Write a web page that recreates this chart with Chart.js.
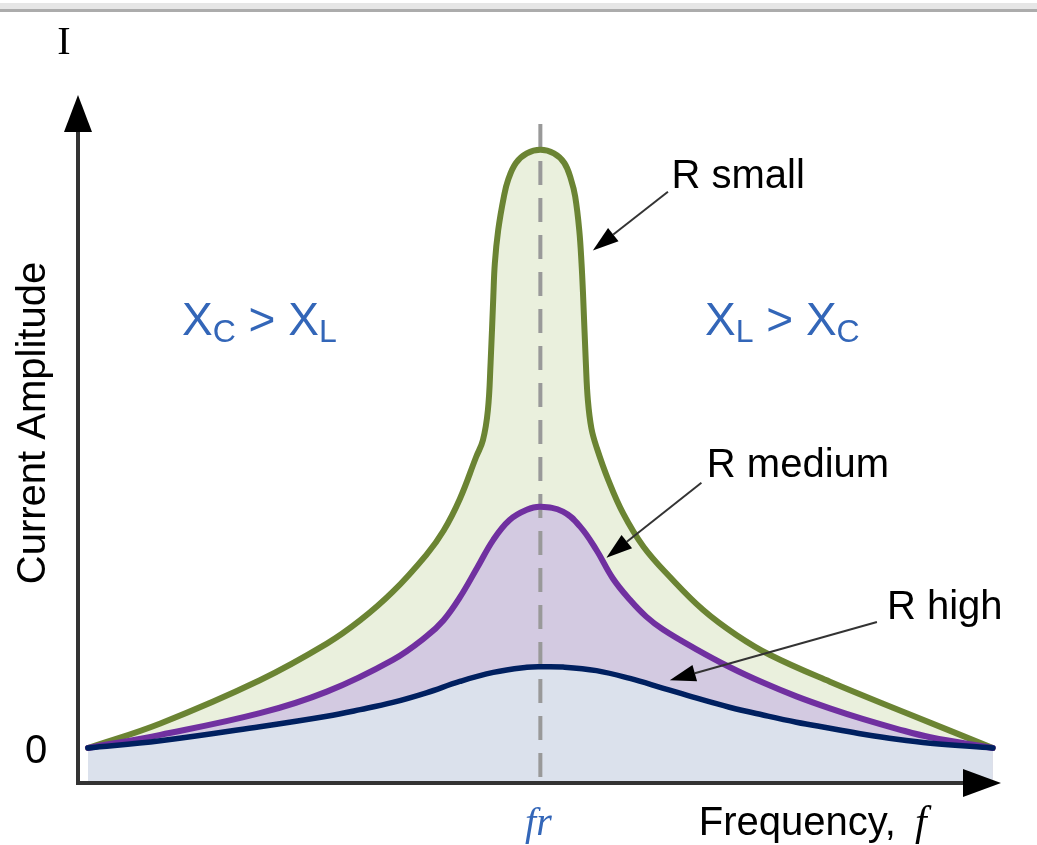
<!DOCTYPE html>
<html>
<head>
<meta charset="utf-8">
<script src="https://cdn.jsdelivr.net/npm/chart.js@4.4.0/dist/chart.umd.min.js"></script>
<style>
  html, body { margin: 0; padding: 0; background: #fff; }
  #wrap { position: relative; width: 1037px; height: 845px; overflow: hidden; }
  #topbar { position: absolute; left: 0; top: 3px; width: 1037px; height: 6px; background: #e6e6e6; border-bottom: 3px solid #acacac; }
  canvas { position: absolute; left: 0; top: 0; }
</style>
</head>
<body>
<div id="wrap">
  <div id="topbar"></div>
  <canvas id="resonanceChart" width="1037" height="845"></canvas>
</div>
<script>
// 주파수 (0 ~ 100, 공진 주파수 fr = 50)
const smallFreq  = [0, 8.0, 19.0, 26.4, 30.1, 33.7, 37.4, 39.3, 41.1, 42.9, 43.65, 44.2, 44.5, 44.8, 44.97, 45.34, 45.97, 46.44, 47.3, 48.5, 50,
                    51.5, 52.65, 53.4, 53.85, 54.3, 54.55, 54.73, 55.03, 55.25, 55.64, 56.24, 57.5, 59.15, 61.4, 64.3, 68.0, 71.7, 75.4, 82.0, 90.5, 100];
const smallAmp   = [0.5, 4.6, 11.8, 17.9, 21.8, 26.55, 32.7, 36.7, 42.0, 49.0, 51.8, 56.8, 64.7, 75.7, 81.3, 86.8, 92.4, 95.2, 98.0, 99.6, 100.2,
                    99.6, 98.0, 95.2, 92.4, 86.8, 81.3, 75.7, 64.6, 58.5, 53.8, 50.5, 45.2, 39.6, 34.05, 29.05, 23.5, 19.3, 16.0, 11.55, 6.3, 0.5];

const mediumFreq = [0, 8.0, 19.0, 26.4, 33.7, 37.4, 39.3, 41.1, 43.0, 44.8, 46.6, 48.5, 50,
                    52.5, 54.4, 56.2, 58.0, 59.9, 61.7, 63.6, 67.3, 70.9, 74.6, 78.3, 82.0, 85.7, 89.4, 93.1, 100];
const mediumAmp  = [0.5, 2.7, 6.3, 9.9, 15.2, 19.1, 21.8, 25.6, 30.5, 35.2, 38.5, 40.2, 40.7,
                    39.9, 37.4, 33.5, 28.8, 25.2, 22.4, 20.2, 16.9, 14.0, 11.4, 9.1, 7.1, 5.3, 3.7, 2.3, 0.5];

const highFreq   = [0, 8.0, 19.0, 26.4, 30.1, 33.7, 37.4, 41.1, 44.8, 48.5, 50, 52.5, 56.2, 59.9, 63.6,
                    67.3, 70.9, 74.6, 78.3, 82.0, 85.7, 89.4, 93.1, 100];
const highAmp    = [0.5, 1.7, 4.05, 5.8, 6.9, 8.1, 9.7, 11.6, 13.1, 13.95, 14.05, 14.0, 13.4, 12.1, 10.45,
                    8.8, 7.3, 6.0, 4.8, 3.8, 2.8, 1.95, 1.3, 0.5];

const seriesNames = ['R high', 'R medium', 'R small'];

// 축 눈금 라벨
const resonanceFreq = 50;
const xTickLabel = 'fr';
const yTickValue = 0;
const yTickLabel = '0';

// 주석 (라벨 위치, 화살표 시작/끝) - 데이터 단위
const notes = [
  { text: 'R small',  x: 64.5, y: 93.8, from: [64.1, 93.2], to: [55.8, 83.4] },
  { text: 'R medium', x: 68.4, y: 45.7, from: [67.8, 44.7], to: [57.3, 32.2] },
  { text: 'R high',   x: 88.3, y: 22.0, from: [87.2, 21.5], to: [64.3, 11.8] }
];

const SANS = "'Liberation Sans', Arial, sans-serif";
const SERIF = "'Liberation Serif', 'Times New Roman', serif";
const BLUE_TEXT = '#3366b8';

function toPoints(xs, ys) {
  return xs.map((f, i) => ({ x: f, y: ys[i] }));
}

// 아래첨자 텍스트 그리기
function drawRuns(ctx, x, y, runs) {
  let cx = x;
  runs.forEach(r => {
    ctx.font = r.size + 'px ' + SANS;
    ctx.fillText(r.text, cx, y + (r.dy || 0));
    cx += ctx.measureText(r.text).width;
  });
}

function drawArrow(ctx, x1, y1, x2, y2, len, half) {
  const ang = Math.atan2(y2 - y1, x2 - x1);
  const bx = x2 - Math.cos(ang) * len;
  const by = y2 - Math.sin(ang) * len;
  ctx.beginPath();
  ctx.moveTo(x1, y1);
  ctx.lineTo(bx, by);
  ctx.stroke();
  ctx.beginPath();
  ctx.moveTo(x2, y2);
  ctx.lineTo(bx + Math.sin(ang) * half, by - Math.cos(ang) * half);
  ctx.lineTo(bx - Math.sin(ang) * half, by + Math.cos(ang) * half);
  ctx.closePath();
  ctx.fill();
}

const decorPlugin = {
  id: 'decor',
  beforeDatasetsDraw(chart) {
    // 공진 주파수 점선
    const { ctx, scales: { x, y } } = chart;
    const px = x.getPixelForValue(resonanceFreq);
    ctx.save();
    ctx.strokeStyle = '#999999';
    ctx.lineWidth = 4;
    ctx.setLineDash([24, 13]);
    ctx.beginPath();
    ctx.moveTo(px, y.getPixelForValue(104.5));
    ctx.lineTo(px, y.bottom);
    ctx.stroke();
    ctx.restore();
  },
  afterDatasetsDraw(chart) {
    const { ctx, scales: { x, y } } = chart;
    const left = x.left, bottom = y.bottom;
    ctx.save();

    // 축
    ctx.strokeStyle = '#333333';
    ctx.fillStyle = '#000000';
    ctx.lineWidth = 4;
    ctx.beginPath();
    ctx.moveTo(left, bottom + 2);
    ctx.lineTo(left, y.top + 20);
    ctx.moveTo(left - 2, bottom);
    ctx.lineTo(x.right - 20, bottom);
    ctx.stroke();
    // 화살표 머리
    ctx.beginPath();
    ctx.moveTo(left, y.top - 2);
    ctx.lineTo(left - 14, y.top + 35);
    ctx.lineTo(left + 14, y.top + 35);
    ctx.closePath();
    ctx.fill();
    ctx.beginPath();
    ctx.moveTo(x.right + 1, bottom);
    ctx.lineTo(x.right - 37, bottom - 14);
    ctx.lineTo(x.right - 37, bottom + 14);
    ctx.closePath();
    ctx.fill();

    // 주석 화살표
    ctx.strokeStyle = '#333333';
    ctx.lineWidth = 2;
    notes.forEach(n => {
      drawArrow(ctx,
        x.getPixelForValue(n.from[0]), y.getPixelForValue(n.from[1]),
        x.getPixelForValue(n.to[0]), y.getPixelForValue(n.to[1]), 26, 8.5);
    });

    // 주석 라벨
    ctx.fillStyle = '#000000';
    ctx.textAlign = 'left';
    ctx.textBaseline = 'alphabetic';
    ctx.font = '40px ' + SANS;
    notes.forEach(n => {
      ctx.fillText(n.text, x.getPixelForValue(n.x), y.getPixelForValue(n.y));
    });

    // XC > XL, XL > XC
    ctx.fillStyle = BLUE_TEXT;
    const ly = y.getPixelForValue(69.3);
    drawRuns(ctx, x.getPixelForValue(10.4), ly, [
      { text: 'X', size: 46 }, { text: 'C', size: 32, dy: 7 },
      { text: ' > X', size: 46 }, { text: 'L', size: 32, dy: 7 }
    ]);
    drawRuns(ctx, x.getPixelForValue(68.2), ly, [
      { text: 'X', size: 46 }, { text: 'L', size: 32, dy: 7 },
      { text: ' > X', size: 46 }, { text: 'C', size: 32, dy: 7 }
    ]);

    // 눈금 라벨
    ctx.fillStyle = '#000000';
    ctx.font = '40px ' + SANS;
    ctx.textAlign = 'center';
    ctx.textBaseline = 'middle';
    ctx.fillText(yTickLabel, left - 42, y.getPixelForValue(yTickValue) + 1);

    ctx.fillStyle = BLUE_TEXT;
    ctx.font = 'italic 40px ' + SERIF;
    ctx.textBaseline = 'alphabetic';
    ctx.fillText(xTickLabel, x.getPixelForValue(resonanceFreq) - 2, bottom + 52);

    // 축 제목
    ctx.fillStyle = '#000000';
    ctx.font = '40px ' + SERIF;
    ctx.fillText('I', left - 14, y.top - 43);

    ctx.font = '40px ' + SANS;
    ctx.textAlign = 'left';
    ctx.fillText('Frequency,', x.getPixelForValue(67.5), bottom + 52);
    const fw = ctx.measureText('Frequency, ').width;
    ctx.font = 'italic 42px ' + SERIF;
    ctx.fillText('f', x.getPixelForValue(67.5) + fw + 8, bottom + 52);

    ctx.font = '40px ' + SANS;
    ctx.textAlign = 'center';
    ctx.translate(left - 33, (y.top + bottom) / 2 - 17);
    ctx.rotate(-Math.PI / 2);
    ctx.fillText('Current Amplitude', 0, 0);

    ctx.restore();
  }
};

const ctx = document.getElementById('resonanceChart');

new Chart(ctx, {
  type: 'line',
  data: {
    datasets: [
      {
        label: seriesNames[0],
        data: toPoints(highFreq, highAmp),
        borderColor: '#002060',
        backgroundColor: '#dbe1ec',
        borderWidth: 5.5,
        fill: 'start'
      },
      {
        label: seriesNames[1],
        data: toPoints(mediumFreq, mediumAmp),
        borderColor: '#7030a0',
        backgroundColor: '#d3cae1',
        borderWidth: 6,
        fill: 'start'
      },
      {
        label: seriesNames[2],
        data: toPoints(smallFreq, smallAmp),
        borderColor: '#6b8433',
        backgroundColor: '#eaf0dd',
        borderWidth: 6,
        fill: 'start'
      }
    ]
  },
  options: {
    responsive: false,
    animation: false,
    layout: {
      padding: { left: 78, right: 37, top: 97, bottom: 62 }
    },
    elements: {
      point: { radius: 0 },
      line: { tension: 0.4, capBezierPoints: true, borderCapStyle: 'round', borderJoinStyle: 'round' }
    },
    scales: {
      x: { type: 'linear', min: -1.1, max: 100.8, display: false },
      y: { type: 'linear', min: -5.33, max: 109, display: false }
    },
    plugins: {
      legend: { display: false },
      tooltip: { enabled: false },
      filler: { drawTime: 'beforeDatasetsDraw' }
    }
  },
  plugins: [decorPlugin]
});
</script>
</body>
</html>
